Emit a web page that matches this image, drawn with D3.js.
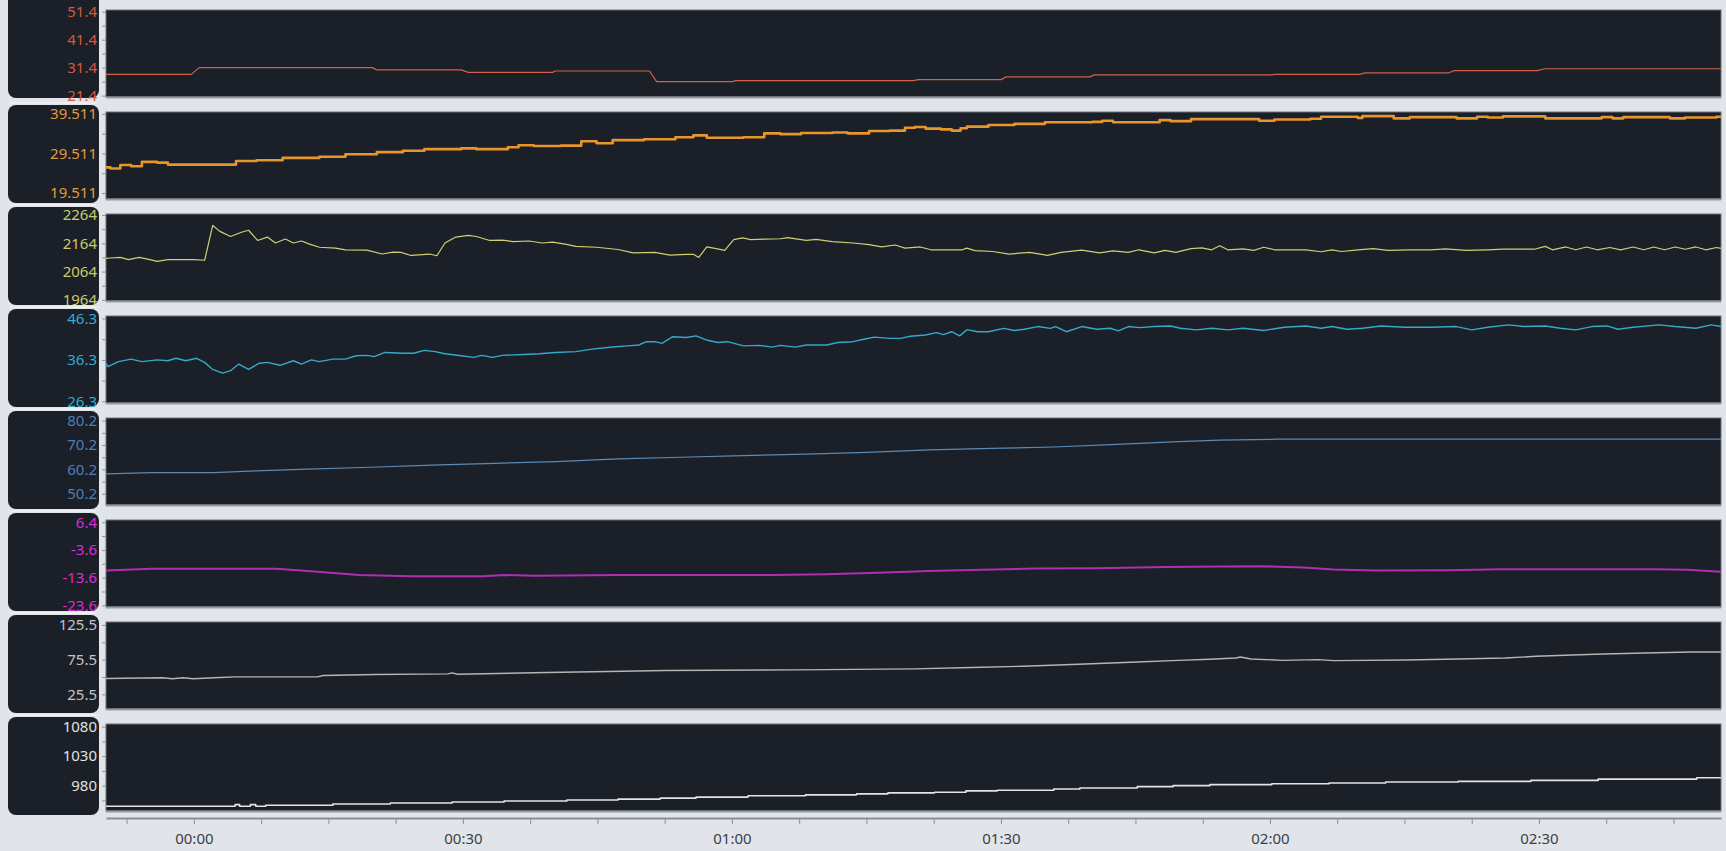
<!DOCTYPE html>
<html>
<head>
<meta charset="utf-8">
<script src="https://cdn.jsdelivr.net/npm/d3@7"></script>
<style>
body { margin: 0; background: #e1e5ea; overflow: hidden; }
svg { display: block; }
text { font-family: "Noto Sans", "Open Sans", sans-serif; }
</style>
</head>
<body>
<script>
// time is in minutes from 00:00
const xStart = -9.8, xEnd = 170.3;
const xTicks = d3.range(-7.5, 170, 7.5);

const ch1 = [[-9.8,29.0],[-0.3,29.0],[0.6,31.4],[19.9,31.4],[20.4,30.6],[29.8,30.6],[30.6,29.7],[40.0,29.7],[40.3,30.2],[50.8,30.2],[51.6,26.4],[60.1,26.4],[60.4,26.75],[80.2,26.75],[80.8,27.1],[90.0,27.1],[90.6,28.1],[99.9,28.1],[100.4,28.8],[120.2,28.8],[120.5,29.0],[130.0,29.0],[130.6,29.5],[139.9,29.5],[140.5,30.3],[149.8,30.3],[150.7,31.0],[170.3,31.0]];

const ch2 = [[-9.8,26.0],[-9.3,25.7],[-8.2,26.6],[-7.0,26.3],[-5.8,27.4],[-4.1,27.2],[-2.9,26.7],[2.9,26.7],[4.7,27.6],[7.0,27.8],[9.9,28.4],[14.0,28.7],[16.9,29.3],[20.4,29.85],[23.3,30.2],[25.7,30.6],[29.8,30.8],[31.5,30.6],[35.0,31.1],[36.2,31.6],[37.9,31.4],[40.9,31.5],[43.2,32.6],[44.9,32.1],[46.7,32.9],[50.2,33.1],[53.7,33.6],[55.7,34.1],[57.2,33.5],[61.3,33.6],[63.6,34.6],[65.4,34.4],[67.7,34.7],[71.2,34.8],[72.9,34.6],[75.3,35.2],[77.6,35.3],[79.3,36.0],[80.4,36.2],[81.6,35.8],[83.3,35.6],[84.5,35.3],[85.5,35.9],[86.2,36.3],[88.6,36.7],[91.5,37.0],[94.9,37.4],[100.2,37.5],[101.3,37.8],[102.5,37.4],[107.7,37.95],[108.9,37.7],[111.2,38.2],[118.8,37.8],[120.5,38.1],[124.5,38.3],[125.7,38.8],[129.8,38.5],[130.3,38.96],[133.8,38.4],[135.6,38.7],[140.8,38.4],[143.1,38.8],[144.3,38.6],[146.0,38.9],[150.7,38.4],[157.0,38.7],[158.2,38.4],[159.4,38.7],[164.6,38.4],[166.3,38.6],[169.8,38.8],[170.3,38.8]];

const ch3 = [[-9.8,2111],[-9.3,2112],[-8.2,2114],[-7.3,2106],[-6.1,2114],[-4.9,2106],[-4.1,2100],[-2.9,2106],[-1.2,2106],[0.0,2106],[1.2,2104],[2.1,2227],[2.9,2206],[4.1,2188],[5.3,2203],[6.1,2210],[7.1,2174],[8.2,2186],[9.1,2165],[10.2,2179],[11.1,2165],[12.0,2172],[12.9,2161],[14.0,2150],[15.8,2147],[16.9,2141],[19.3,2140],[21.0,2126],[22.2,2133],[23.1,2132],[24.2,2121],[26.3,2126],[27.1,2120],[28.0,2165],[29.2,2186],[30.6,2192],[31.5,2188],[33.0,2174],[34.4,2175],[35.6,2170],[37.4,2172],[38.8,2165],[40.0,2168],[41.4,2161],[42.6,2153],[44.9,2150],[47.3,2142],[49.0,2130],[51.4,2132],[53.1,2122],[54.9,2125],[55.7,2125],[56.3,2114],[57.2,2151],[58.1,2146],[59.2,2139],[60.2,2177],[61.2,2183],[62.1,2177],[63.6,2179],[65.4,2180],[66.2,2184],[68.3,2174],[69.4,2178],[71.2,2170],[73.5,2165],[75.3,2159],[76.7,2151],[78.2,2158],[79.3,2147],[81.0,2151],[82.2,2141],[85.7,2141],[86.2,2147],[87.1,2138],[89.1,2135],[90.9,2126],[93.2,2132],[95.2,2121],[96.7,2132],[99.0,2140],[101.0,2130],[102.5,2137],[104.2,2132],[105.4,2141],[107.1,2130],[108.3,2139],[109.5,2132],[111.2,2145],[112.4,2148],[113.5,2141],[114.4,2155],[115.3,2141],[117.0,2144],[118.2,2139],[119.3,2150],[120.5,2141],[124.0,2141],[125.7,2134],[126.9,2141],[128.0,2135],[129.8,2141],[131.5,2145],[133.2,2139],[135.6,2141],[137.9,2141],[139.6,2144],[141.9,2139],[144.3,2141],[146.0,2143],[149.5,2143],[150.7,2153],[151.5,2141],[153.0,2151],[154.1,2141],[155.3,2151],[156.5,2141],[157.9,2149],[159.1,2141],[160.5,2151],[161.7,2141],[162.8,2151],[164.0,2141],[165.2,2151],[166.3,2143],[167.5,2151],[168.6,2141],[169.8,2149],[170.3,2146]];

const ch4 = [[-9.8,35.5],[-9.6,34.7],[-8.4,35.9],[-7.0,36.5],[-5.8,35.9],[-4.1,36.3],[-2.9,36.1],[-2.0,36.7],[-0.9,36.1],[0.3,36.7],[1.2,35.7],[2.1,34.0],[3.2,33.1],[4.1,33.7],[5.0,35.3],[6.1,34.0],[7.3,35.5],[8.2,35.7],[9.6,35.0],[11.1,36.1],[12.0,35.3],[13.1,36.3],[14.0,35.9],[15.5,36.5],[16.9,36.5],[18.1,37.3],[19.3,37.4],[20.1,37.1],[21.3,38.1],[23.4,37.9],[24.5,37.9],[25.7,38.6],[26.9,38.3],[28.0,37.8],[29.8,37.3],[31.2,36.9],[32.1,37.4],[33.3,36.9],[34.4,37.4],[36.8,37.6],[38.5,37.8],[40.3,38.1],[42.6,38.3],[44.4,38.9],[46.7,39.4],[48.4,39.7],[49.6,39.9],[50.5,40.7],[51.4,40.7],[52.2,40.3],[53.4,41.9],[54.9,41.7],[56.0,42.1],[57.2,41.1],[58.4,40.5],[59.5,40.7],[61.3,39.7],[63.0,39.8],[64.5,39.4],[65.4,39.8],[67.1,39.4],[68.3,39.9],[70.6,39.9],[71.8,40.5],[73.5,40.7],[74.7,41.3],[75.9,41.8],[77.6,41.5],[78.8,41.5],[79.9,42.0],[81.6,42.3],[82.8,42.9],[83.6,42.4],[84.5,43.1],[85.4,42.1],[86.2,43.6],[87.4,43.1],[88.6,43.1],[90.3,43.9],[91.5,43.4],[92.6,43.7],[94.1,44.35],[95.5,43.9],[96.1,44.35],[97.3,43.1],[99.0,44.35],[100.7,43.7],[102.2,43.95],[103.1,43.3],[104.2,44.35],[105.4,44.1],[107.1,44.35],[108.9,44.5],[110.0,43.95],[111.8,43.55],[113.5,43.95],[115.3,43.55],[117.0,43.95],[119.3,43.4],[121.6,44.2],[124.0,44.5],[125.7,43.95],[126.9,44.35],[128.6,43.7],[130.3,43.95],[132.4,44.5],[135.0,44.2],[137.9,44.2],[140.8,44.35],[142.5,43.55],[144.3,44.2],[146.6,44.75],[148.3,44.35],[150.7,44.5],[152.4,43.95],[154.1,43.55],[155.9,44.35],[157.6,44.5],[158.8,43.7],[160.5,44.2],[163.4,44.75],[165.2,44.35],[167.5,43.95],[169.2,44.75],[170.3,44.35]];

const ch5 = [[-9.8,58.4],[-4.7,58.9],[2.2,58.9],[6.9,59.6],[12.7,60.3],[19.6,61.1],[26.5,62.0],[33.5,62.7],[40.4,63.4],[47.3,64.5],[54.3,65.2],[61.2,65.85],[68.2,66.5],[75.1,67.2],[82.0,68.2],[89.0,68.8],[95.9,69.4],[102.9,70.5],[109.8,71.6],[114.4,72.2],[120.8,72.6],[170.3,72.6]];

const ch6 = [[-9.8,-11.0],[-4.7,-10.4],[9.2,-10.4],[12.7,-11.25],[18.4,-12.66],[24.2,-13.13],[32.3,-13.13],[34.6,-12.66],[38.1,-12.9],[47.3,-12.66],[64.7,-12.66],[70.5,-12.4],[76.3,-11.8],[82.0,-11.25],[87.8,-10.8],[93.6,-10.3],[100.5,-10.2],[108.6,-9.8],[114.4,-9.6],[119.1,-9.5],[123.7,-9.95],[127.1,-10.66],[131.8,-11.0],[139.9,-10.9],[145.6,-10.55],[163.0,-10.55],[166.5,-10.8],[170.3,-11.5]];

const ch7 = [[-9.8,48.4],[-3.5,49.3],[-2.4,47.9],[-1.2,49.3],[-0.1,47.9],[2.2,49.3],[4.6,50.7],[13.8,50.7],[14.4,52.6],[20.2,54.1],[28.3,55.0],[28.8,56.5],[29.4,54.5],[39.3,56.9],[46.2,58.4],[52.6,59.8],[67.0,60.7],[80.3,62.2],[86.7,64.1],[92.5,66.0],[99.4,69.3],[105.2,72.2],[109.8,74.5],[113.3,76.0],[116.2,77.9],[116.7,79.3],[117.9,76.5],[121.4,74.5],[125.4,75.5],[127.1,74.1],[135.2,75.0],[141.0,76.5],[146.2,77.9],[149.7,80.3],[153.7,82.2],[157.2,83.6],[161.8,85.0],[167.0,86.5],[170.3,86.5]];

const ch8 = [[-9.8,945],[4.6,947.8],[5.1,945],[6.3,947.8],[6.9,945],[8.0,946.7],[15.5,948.9],[21.9,950.6],[28.8,952.2],[34.6,953.9],[41.6,955.6],[47.3,957.2],[52.0,958.9],[56.0,960.6],[61.8,962.8],[68.2,964.4],[73.9,966.1],[77.4,967.8],[82.6,968.9],[86.1,971.1],[89.6,972.2],[95.9,974.4],[98.8,976.1],[105.2,978.3],[109.2,980],[113.3,981.7],[120.2,983.3],[126.6,984.4],[132.9,986.1],[141.0,987.2],[149.1,988.9],[156.6,991.1],[167.6,993.3],[170.3,993.3]];

// labelled y ticks, top to bottom
const labels1 = ["51.4", "41.4", "31.4", "21.4"];
const labels2 = ["39.511", "29.511", "19.511"];
const labels3 = ["2264", "2164", "2064", "1964"];
const labels4 = ["46.3", "36.3", "26.3"];
const labels5 = ["80.2", "70.2", "60.2", "50.2"];
const labels6 = ["6.4", "-3.6", "-13.6", "-23.6"];
const labels7 = ["125.5", "75.5", "25.5"];
const labels8 = ["1080", "1030", "980"];

const domains = [[20.9, 52.0], [18.0, 40.0], [1960, 2267.5], [25.9, 46.9], [45.6, 81.3], [-24.2, 7.2], [4.3, 129.8], [937, 1084.6]];

const W = 1726, H = 851;
const plotL = 106, plotR = 1721;
const top0 = 10, pitch = 102, ph = 87;
const panelFill = "#1b1f27";

const tracks = [
	{ data: ch1, labels: labels1, color: "#d0624c", text: "#d8583c", width: 1.2, curve: d3.curveLinear },
	{ data: ch2, labels: labels2, color: "#e8952c", text: "#e39a3c", width: 2.6, curve: d3.curveStepAfter },
	{ data: ch3, labels: labels3, color: "#cfcf74", text: "#cbcb6a", width: 1.2, curve: d3.curveLinear },
	{ data: ch4, labels: labels4, color: "#34a9c9", text: "#34abcf", width: 1.4, curve: d3.curveLinear },
	{ data: ch5, labels: labels5, color: "#5c8ab6", text: "#4f80b2", width: 1.2, curve: d3.curveLinear },
	{ data: ch6, labels: labels6, color: "#b02eb4", text: "#d52fd8", width: 2, curve: d3.curveLinear },
	{ data: ch7, labels: labels7, color: "#b5b5b2", text: "#c4c4c4", width: 1.4, curve: d3.curveLinear },
	{ data: ch8, labels: labels8, color: "#e4e4e4", text: "#e2e2e2", width: 1.6, curve: d3.curveStepAfter }
];

const base = new Date(2021, 0, 1, 0, 0, 0).getTime();
const at = m => new Date(base + m * 60000);

const x = d3.scaleTime()
	.domain([at(xStart), at(xEnd)])
	.range([plotL, plotR]);

const svg = d3.select("body").append("svg")
	.attr("width", W)
	.attr("height", H);

tracks.forEach(function(tr, i) {
	let y0 = top0 + i * pitch;
	let y = d3.scaleLinear()
		.domain(domains[i])
		.range([y0 + ph, y0]);

	// label box on the left
	svg.append("rect")
		.attr("x", 8).attr("y", i === 0 ? -12 : y0 - 7)
		.attr("width", 91).attr("height", i === 0 ? 110 : 98)
		.attr("rx", 8)
		.attr("fill", panelFill);
	if (i > 0) {
		svg.append("line")
			.attr("x1", 10).attr("x2", 96)
			.attr("y1", y0 - 9).attr("y2", y0 - 9)
			.attr("stroke", "#f6f8fa").attr("stroke-width", 1);
	}

	// plot panel
	svg.append("rect")
		.attr("x", plotL).attr("y", y0)
		.attr("width", plotR - plotL).attr("height", ph)
		.attr("fill", panelFill)
		.attr("stroke", "#6c727b")
		.attr("stroke-width", 1);
	svg.append("line")
		.attr("x1", plotL).attr("x2", plotR)
		.attr("y1", y0 + ph + 0.5).attr("y2", y0 + ph + 0.5)
		.attr("stroke", "#959ba3").attr("stroke-width", 2);

	// ticks every half label step
	let major = tr.labels.map(Number);
	let half = (major[0] - major[1]) / 2;
	let all = d3.range(-6, 20).map(k => major[0] - k * half)
		.filter(v => v >= domains[i][0] && v <= domains[i][1]);

	let ax = svg.append("g")
		.attr("transform", "translate(" + plotL + ",0)")
		.call(d3.axisLeft(y)
			.tickValues(all)
			.tickSize(4)
			.tickPadding(5)
			.tickFormat(function(d) {
				let k = major.findIndex(m => Math.abs(m - d) < 1e-6);
				return k >= 0 ? tr.labels[k] : "";
			}));
	ax.select(".domain").remove();
	ax.selectAll(".tick line").attr("stroke", "#8d929a");
	ax.selectAll(".tick text")
		.attr("fill", tr.text)
		.style("font-size", "15px");

	let line = d3.line()
		.curve(tr.curve)
		.x(d => x(at(d[0])))
		.y(d => y(d[1]));

	svg.append("path")
		.datum(tr.data)
		.attr("fill", "none")
		.attr("stroke", tr.color)
		.attr("stroke-width", tr.width)
		.attr("stroke-linejoin", "round")
		.attr("d", line);
});

// time axis
let xa = svg.append("g")
	.attr("transform", "translate(0,818)")
	.call(d3.axisBottom(x)
		.tickValues(xTicks.map(at))
		.tickSize(6)
		.tickSizeOuter(0)
		.tickPadding(9)
		.tickFormat(function(d) {
			let m = Math.round((d.getTime() - base) / 60000);
			return m % 30 === 0 ? d3.timeFormat("%H:%M")(d) : "";
		}));
xa.select(".domain").attr("stroke", "#8a9098").attr("stroke-width", 2);
xa.selectAll(".tick line").attr("stroke", "#8a9098");
xa.selectAll(".tick text")
	.attr("fill", "#3b4047")
	.style("font-size", "15px");
</script>
</body>
</html>
